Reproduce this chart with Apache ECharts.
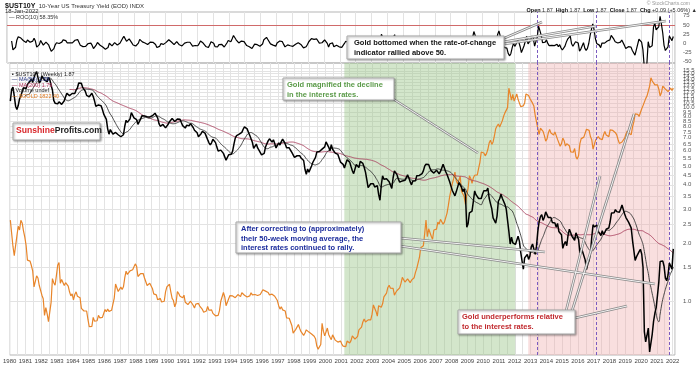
<!DOCTYPE html>
<html><head><meta charset="utf-8">
<script src="https://cdn.jsdelivr.net/npm/echarts@6/dist/echarts.min.js"></script>
<style>html,body{margin:0;padding:0;background:#fff}#c{width:700px;height:366px}</style>
</head><body><div id="c"></div>
<script>
// ---- DATA (monthly, starting Jan 1980) ----
const startYear = 1980;
const yield10 = [
10.80,12.41,12.75,11.47,10.18,9.78,10.25,11.10,11.51,11.75,12.68,12.84,
12.57,13.19,13.12,13.68,14.10,13.47,14.28,14.94,15.32,15.15,13.39,13.72,
14.59,14.43,13.86,13.87,13.62,14.30,13.95,13.06,12.34,10.91,10.55,10.54,
10.46,10.72,10.51,10.40,10.38,10.85,11.38,11.85,11.65,11.54,11.69,11.83,
11.67,11.84,12.32,12.63,13.41,13.56,13.36,12.72,12.52,12.16,11.57,11.50,
11.38,11.51,11.86,11.43,10.85,10.16,10.31,10.33,10.37,10.24,9.78,9.26,
9.19,8.70,7.78,7.30,7.71,7.80,7.30,7.17,7.45,7.43,7.25,7.11,
7.08,7.25,7.25,8.02,8.61,8.40,8.45,8.76,9.42,9.52,8.86,8.99,
8.67,8.21,8.37,8.72,9.09,8.92,9.06,9.26,8.98,8.80,8.96,9.11,
9.09,9.17,9.36,9.18,8.86,8.28,8.02,8.11,8.19,8.01,7.87,7.84,
8.21,8.47,8.59,8.79,8.76,8.48,8.47,8.75,8.89,8.72,8.39,8.08,
8.09,7.85,8.11,8.04,8.07,8.28,8.27,7.90,7.65,7.53,7.42,7.09,
7.03,7.34,7.54,7.48,7.39,7.26,6.84,6.59,6.42,6.59,6.87,6.77,
6.60,6.26,5.98,5.97,6.04,5.96,5.81,5.68,5.36,5.33,5.72,5.77,
5.75,5.97,6.48,6.97,7.18,7.10,7.30,7.24,7.46,7.74,7.96,7.81,
7.78,7.47,7.20,7.06,6.63,6.17,6.28,6.49,6.20,6.04,5.93,5.71,
5.65,5.81,6.27,6.51,6.74,6.91,6.87,6.64,6.83,6.53,6.20,6.30,
6.58,6.42,6.69,6.89,6.71,6.49,6.22,6.30,6.21,6.03,5.88,5.81,
5.54,5.57,5.65,5.64,5.65,5.50,5.46,5.34,4.81,4.53,4.83,4.65,
4.72,5.00,5.23,5.18,5.54,5.90,5.79,5.94,5.92,6.11,6.03,6.28,
6.66,6.52,6.26,5.99,6.44,6.10,6.05,5.83,5.80,5.74,5.72,5.24,
5.16,5.10,4.89,5.14,5.39,5.28,5.24,4.97,4.73,4.57,4.65,5.09,
5.04,4.91,5.28,5.21,5.16,4.93,4.65,4.26,3.87,3.94,4.05,4.03,
4.05,3.90,3.81,3.96,3.57,3.33,3.98,4.45,4.27,4.29,4.30,4.27,
4.15,4.08,3.83,4.35,4.72,4.73,4.50,4.28,4.13,4.10,4.19,4.23,
4.22,4.17,4.50,4.34,4.14,4.00,4.18,4.26,4.20,4.46,4.54,4.47,
4.42,4.57,4.72,4.99,5.11,5.11,5.09,4.88,4.72,4.73,4.60,4.56,
4.76,4.72,4.56,4.69,4.75,5.10,5.00,4.67,4.52,4.53,4.15,4.10,
3.74,3.74,3.51,3.68,3.88,4.10,4.01,3.89,3.69,3.81,3.53,2.42,
2.52,2.87,2.82,2.93,3.29,3.72,3.56,3.59,3.40,3.39,3.40,3.59,
3.73,3.69,3.73,3.85,3.42,3.20,3.01,2.70,2.65,2.54,2.76,3.29,
3.39,3.58,3.41,3.46,3.17,3.00,3.00,2.30,1.98,2.15,2.01,1.98,
1.97,1.97,2.17,2.05,1.80,1.62,1.47,1.68,1.72,1.75,1.65,1.72,
1.91,1.98,1.96,1.76,1.93,2.30,2.58,2.74,2.81,2.62,2.72,2.90,
2.86,2.71,2.72,2.71,2.56,2.60,2.54,2.42,2.53,2.30,2.33,2.21,
1.88,1.98,2.04,1.94,2.20,2.36,2.32,2.17,2.17,2.07,2.26,2.24,
2.09,1.78,1.89,1.81,1.81,1.64,1.46,1.56,1.63,1.76,2.14,2.49,
2.43,2.42,2.48,2.30,2.30,2.19,2.32,2.21,2.20,2.36,2.35,2.40,
2.58,2.86,2.84,2.87,2.98,2.91,2.89,2.89,3.00,3.15,3.12,2.83,
2.71,2.68,2.57,2.53,2.40,2.07,2.06,1.63,1.70,1.71,1.81,1.86,
1.76,1.50,0.70,0.62,0.67,0.73,0.55,0.56,0.68,0.79,0.87,0.93,
1.08,1.26,1.61,1.64,1.62,1.52,1.32,1.28,1.37,1.58,1.56,1.47,
1.87];
const gold = [
675,665,554,517,514,600,645,627,674,661,623,594,
558,500,499,496,480,461,409,410,444,437,413,410,
384,374,330,350,334,315,339,364,435,422,414,444,
481,491,420,432,438,413,422,416,411,394,382,388,
371,386,394,381,377,377,348,348,341,340,341,320,
303,299,304,325,316,317,317,330,324,326,325,322,
345,339,346,340,342,343,348,376,418,423,395,391,
408,401,409,438,460,449,451,461,460,465,468,486,
477,442,443,452,451,452,437,432,413,407,420,419,
404,388,391,385,371,367,375,365,362,367,394,409,
410,417,394,375,369,352,362,395,389,381,381,377,
384,364,363,358,357,367,368,356,349,359,360,361,
354,354,345,338,337,341,353,343,345,344,335,334,
329,330,330,342,367,372,392,379,355,364,374,383,
387,382,384,377,381,386,385,380,391,389,384,379,
379,376,382,391,385,387,386,383,383,383,386,387,
400,405,396,393,392,385,383,387,383,381,378,369,
355,346,352,344,344,341,324,324,323,325,306,289,
289,297,296,308,299,292,293,284,289,296,294,291,
287,287,286,282,277,262,256,257,265,311,293,283,
284,300,286,280,275,285,282,274,273,270,266,272,
266,262,263,261,272,270,268,273,283,283,276,275,
282,296,294,302,314,321,314,310,319,317,319,333,
357,359,340,328,355,356,351,360,379,379,390,407,
414,405,406,404,384,392,398,401,406,420,439,442,
424,423,434,429,422,430,424,438,456,470,476,510,
549,555,557,610,676,596,633,632,598,585,627,629,
631,665,655,679,667,655,665,665,712,754,806,803,
889,922,968,909,888,889,939,839,829,806,760,816,
858,943,924,890,928,946,934,949,996,1043,1127,1134,
1118,1095,1113,1148,1205,1232,1193,1215,1271,1343,1370,1391,
1360,1374,1424,1474,1512,1529,1573,1820,1800,1665,1739,1652,
1656,1743,1674,1650,1585,1596,1594,1630,1744,1747,1722,1684,
1671,1627,1593,1487,1414,1343,1286,1347,1349,1316,1275,1222,
1244,1300,1336,1299,1287,1280,1311,1296,1239,1222,1176,1200,
1251,1227,1179,1198,1199,1181,1128,1117,1125,1157,1086,1068,
1097,1200,1246,1242,1260,1276,1337,1341,1326,1266,1236,1152,
1192,1234,1231,1266,1246,1260,1237,1283,1315,1280,1282,1265,
1331,1331,1325,1335,1303,1282,1238,1202,1198,1215,1221,1250,
1291,1320,1300,1285,1284,1359,1413,1500,1511,1495,1471,1480,
1560,1597,1592,1683,1716,1732,1847,1968,1922,1900,1866,1858,
1867,1808,1718,1760,1850,1834,1807,1785,1775,1777,1821,1790,
1822];
const yieldTicks = [1.0,1.5,2.0,2.5,3.0,3.5,4.0,4.5,5.0,5.5,6.0,6.5,7.0,7.5,8.0,8.5,9.0,9.5,10.0,10.5,11.0,11.5,12.0,12.5,13.0,13.5,14.0,14.5,15.0,15.5,16.0];
const rocTicks = [-50,-25,0,25,50,75];
const greenSpan = [2001.2, 2012.03];
const pinkSpan = [2012.85, 2021.8];
const signalYears = [2013.45, 2017.15, 2021.78];
const ma50Months = 12;    // ~50 weeks
const ma200Months = 46;   // ~200 weeks
const rocLagMonths = 3;   // ~10 weeks on monthly averages

// ---- derived series ----
const xOf = i => startYear + (i + 0.5) / 12;
const yPts = yield10.map((v, i) => [xOf(i), Math.log(v)]);
const gPts = gold.map((v, i) => [xOf(i), Math.log(v)]);
function sma(arr, n) {
  const out = [];
  for (let i = n - 1; i < arr.length; i++) {
    let s = 0; for (let k = i - n + 1; k <= i; k++) s += arr[k];
    out.push([xOf(i), Math.log(s / n)]);
  }
  return out;
}
const ma50 = sma(yield10, ma50Months);
const ma200 = sma(yield10, ma200Months);
const roc = [];
for (let i = rocLagMonths; i < yield10.length; i++) roc.push([xOf(i), (yield10[i] / yield10[i - rocLagMonths] - 1) * 100]);

const FONT = 'Liberation Sans, Arial, sans-serif';
const chart = echarts.init(document.getElementById('c'), null, {renderer: 'canvas'});
const gridLine = {lineStyle: {color: '#e3e3e3', width: 1}};
const xBase = {type: 'value', min: 1980, max: 2022.15, interval: 1};

const option = {
  animation: false,
  backgroundColor: '#fff',
  grid: [
    {left: 7, right: 25, top: 12, height: 51, show: true, borderColor: '#b5b5b5', borderWidth: 1},
    {left: 7, right: 25, top: 63, height: 292, show: true, borderColor: '#b5b5b5', borderWidth: 1}
  ],
  xAxis: [
    Object.assign({gridIndex: 0, axisLine: {show: false}, axisTick: {show: false}, axisLabel: {show: false}, splitLine: gridLine}, xBase),
    Object.assign({gridIndex: 1, axisLine: {show: false}, axisTick: {show: false},
      axisLabel: {fontSize: 6, color: '#444', fontFamily: FONT, margin: 3, formatter: v => Number.isInteger(v) ? String(v) : ''},
      splitLine: gridLine, minorTick: {show: false, splitNumber: 2}, minorSplitLine: {show: true, lineStyle: {color: '#e3e3e3'}}}, xBase)
  ],
  yAxis: [
    {type: 'value', gridIndex: 0, position: 'right', min: -53.5, max: 85,
      axisLine: {show: false}, axisTick: {show: false, customValues: rocTicks},
      axisLabel: {customValues: rocTicks, fontSize: 6, color: '#555', fontFamily: FONT, margin: 8},
      splitLine: {show: false}},
    {type: 'value', gridIndex: 1, position: 'right', min: Math.log(0.53), max: Math.log(17),
      axisLine: {show: false}, axisTick: {show: false, customValues: yieldTicks.map(Math.log)},
      axisLabel: {customValues: yieldTicks.map(Math.log), fontSize: 6, color: '#555', fontFamily: FONT, margin: 8, hideOverlap: false,
        formatter: v => Math.exp(v).toFixed(1)},
      splitLine: gridLine},
    {type: 'value', gridIndex: 1, show: false, min: Math.log(245), max: Math.log(2200), splitLine: {show: false}}
  ],
  series: [
    {type: 'line', xAxisIndex: 1, yAxisIndex: 1, data: yPts, showSymbol: false, silent: true, z: 0,
      lineStyle: {opacity: 0},
      markArea: {silent: true, data: [
        [{xAxis: greenSpan[0], itemStyle: {color: 'rgba(150,195,130,0.42)'}}, {xAxis: greenSpan[1]}],
        [{xAxis: pinkSpan[0], itemStyle: {color: 'rgba(240,170,170,0.38)'}}, {xAxis: pinkSpan[1]}]
      ]},
      markLine: {silent: true, symbol: 'none', label: {show: false},
        lineStyle: {color: '#7b5cc0', type: [3, 2], width: 1},
        data: signalYears.map(v => ({xAxis: v}))}
    },
    {type: 'line', name: 'gold', xAxisIndex: 1, yAxisIndex: 2, data: gPts, showSymbol: false, z: 3,
      lineStyle: {color: '#e8852a', width: 1.2}},
    {type: 'line', name: 'ma200', xAxisIndex: 1, yAxisIndex: 1, data: ma200, showSymbol: false, z: 4, smooth: true,
      lineStyle: {color: '#a8405e', width: 0.9}},
    {type: 'line', name: 'ma50', xAxisIndex: 1, yAxisIndex: 1, data: ma50, showSymbol: false, z: 4, smooth: true,
      lineStyle: {color: '#333', width: 0.9}},
    {type: 'line', name: 'ust10y', xAxisIndex: 1, yAxisIndex: 1, data: yPts, showSymbol: false, z: 5,
      lineStyle: {color: '#000', width: 1.5}},
    {type: 'line', name: 'roc', xAxisIndex: 0, yAxisIndex: 0, data: roc, showSymbol: false, z: 5,
      lineStyle: {color: '#000', width: 1.2},
      markLine: {silent: true, symbol: 'none', label: {show: false}, data: [
        {yAxis: 50, lineStyle: {color: '#d06a6a', type: 'solid', width: 1}},
        ...signalYears.map(v => ({xAxis: v, lineStyle: {color: '#7b5cc0', type: [3, 2], width: 1}}))
      ]}}
  ],
  graphic: []
};
chart.setOption(option);

// ---- annotations (layout) ----
function box(x, y, w, h) {
  return {type: 'rect', shape: {x, y, width: w, height: h}, z: 20,
    style: {fill: '#fff', stroke: '#a8a8a8', lineWidth: 1, shadowBlur: 2, shadowOffsetX: 1, shadowOffsetY: 1, shadowColor: 'rgba(0,0,0,0.35)'}};
}
function txt(x, y, text, color, size, bold) {
  return {type: 'text', x, y, z: 21, style: {text, fill: color, font: (bold ? 'bold ' : '') + size + 'px ' + FONT, lineHeight: size + 2}};
}
function callout(x1, y1, x2, y2) {
  return [
    {type: 'line', shape: {x1, y1, x2, y2}, z: 15, style: {stroke: '#8a8a8a', lineWidth: 2.6}},
    {type: 'line', shape: {x1, y1, x2, y2}, z: 16, style: {stroke: '#fff', lineWidth: 0.9}}
  ];
}
const g = [];
// header
g.push({type: 'text', x: 5, y: 0, style: {text: '{b|$UST10Y} {n|10-Year US Treasury Yield (EOD) INDX}', rich: {
  b: {font: 'bold 7px ' + FONT, fill: '#111'}, n: {font: '6px ' + FONT, fill: '#333'}}}});
g.push(txt(5, 7, '18-Jan-2022', '#333', 6, false));
g.push(txt(9, 13.5, '\u2014 ROC(10) 58.35%', '#333', 5.5, false));
g.push({type: 'text', right: 10, top: 1, style: {text: '\u00a9 StockCharts.com', fill: '#999', font: '5px ' + FONT}});
g.push({type: 'text', right: 3, top: 7.5, style: {
  text: '{b|Open} 1.87  {b|High} 1.87  {b|Low} 1.87  {b|Close} 1.87  {b|Chg} +0.09 (+5.06%) \u25b2',
  font: '5.5px ' + FONT, fill: '#333', rich: {b: {font: 'bold 5.5px ' + FONT, fill: '#111'}}}});
// legend
g.push(txt(12, 70.5, '\u25aa $UST10Y (Weekly) 1.87', '#222', 5.5, false));
g.push(txt(12, 76, '\u2014 MA(50) 1.58', '#2a3a8a', 5.5, false));
g.push(txt(12, 81.5, '\u2014 MA(200) 1.79', '#b0305a', 5.5, false));
g.push(txt(12, 87, '\u25aa Volume undef', '#222', 5.5, false));
g.push(txt(12, 92.5, '\u2014 $GOLD 1822.40', '#e07a20', 5.5, false));
// logo
g.push(box(13, 123, 87, 17));
g.push({type: 'text', x: 16, y: 126.5, z: 21, style: {text: '{r|Sunshine}{k|Profits.com}', rich: {
  r: {font: 'bold 8.6px ' + FONT, fill: '#d8262a'}, k: {font: 'bold 8.6px ' + FONT, fill: '#222'}}}});
// callouts
g.push(...callout(500, 40, 542, 22), ...callout(503, 42, 596, 26), ...callout(504, 44, 666, 21));
g.push(...callout(390, 97, 478, 153));
g.push(...callout(400, 246, 655, 284), ...callout(400, 238, 545, 252));
g.push(...callout(566, 311, 600, 176), ...callout(572, 311, 634, 114), ...callout(575, 318, 627, 306));
// boxes
g.push(box(347, 36, 157, 23));
g.push(txt(354, 38.5, 'Gold bottomed when the rate-of-change\nindicator rallied above 50.', '#111', 7.5, true));
g.push(box(283, 78, 111, 22));
g.push(txt(287, 80.5, 'Gold magnified the decline\nin the interest rates.', '#5a9a48', 7.5, true));
g.push(box(236, 222, 165, 31));
g.push(txt(241, 224.5, 'After correcting to (approximately)\ntheir 50-week moving average, the\ninterest rates continued to rally.', '#1c2c9c', 7.5, true));
g.push(box(458, 310, 117, 24));
g.push(txt(462, 312.5, 'Gold underperforms relative\nto the interest rates.', '#c0282d', 7.5, true));
chart.setOption({graphic: g});
</script></body></html>
